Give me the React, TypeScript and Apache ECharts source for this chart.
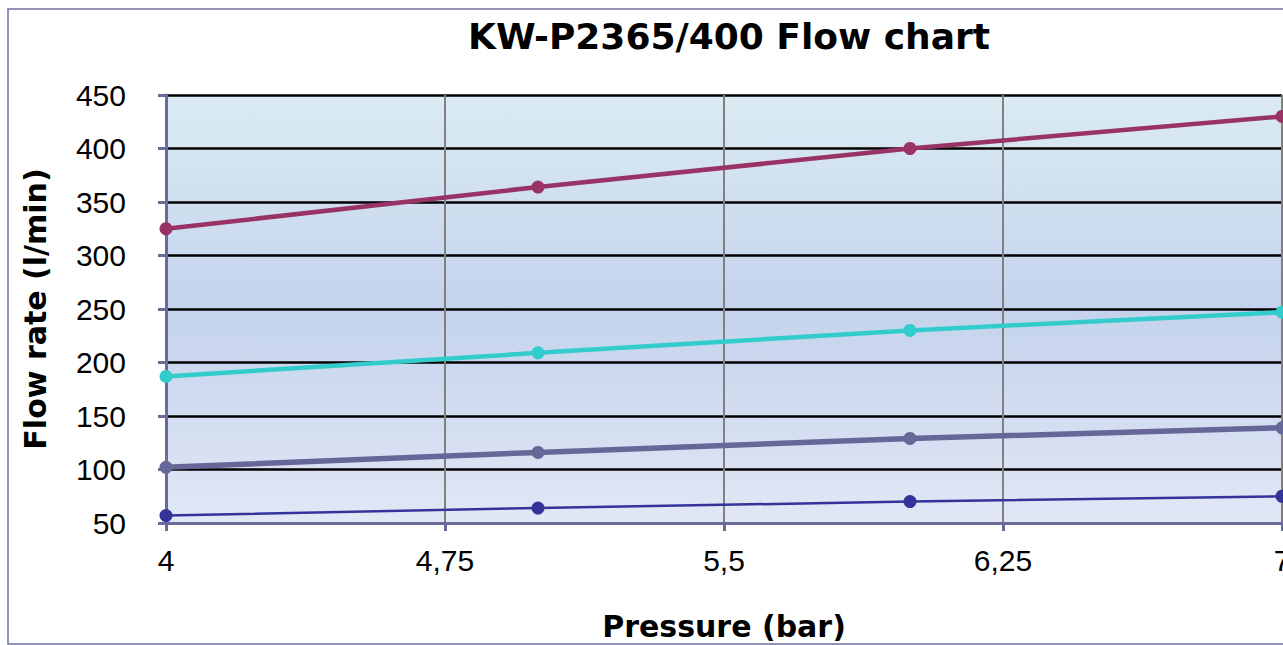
import React, { useEffect, useRef } from "react";
import * as echarts from "echarts";

const pressures = [4, 5, 6, 7];
const flowSeries1 = [325, 364, 400, 430];
const flowSeries2 = [187, 209, 230, 247];
const flowSeries3 = [102, 116, 129, 139];
const flowSeries4 = [57, 64, 70, 75];
const seriesColors = ["#993366", "#33cccc", "#666699", "#333399"];
const seriesWidths = [4.5, 4.5, 5.5, 2.5];
const chartTitle = "KW-P2365/400 Flow chart";
const xTitle = "Pressure (bar)";
const yTitle = "Flow rate (l/min)";

export default function App() {
  const ref = useRef<HTMLDivElement>(null);
  useEffect(() => {
    if (!ref.current) return;
    const chart = echarts.init(ref.current, null, { renderer: "svg" });
    const all = [flowSeries1, flowSeries2, flowSeries3, flowSeries4];
    const font = "'Liberation Sans', Arial, sans-serif";
    const bold = "'DejaVu Sans', sans-serif";
    chart.setOption({
      animation: false,
      backgroundColor: "#ffffff",
      title: {
        text: chartTitle,
        left: 724,
        textAlign: "center",
        top: 13,
        textStyle: { fontFamily: bold, fontWeight: "bold", fontSize: 36, color: "#000" },
      },
      graphic: [
        {
          type: "rect",
          shape: { x: 8, y: 9, width: 1290, height: 635 },
          style: { fill: "none", stroke: "#7272a2", lineWidth: 1.5 },
          silent: true,
          z: -10,
        },
      ],
      grid: {
        left: 166,
        top: 95,
        right: 1,
        bottom: 122,
        outerBoundsMode: "none",
        containLabel: false,
        show: true,
        borderWidth: 0,
        backgroundColor: new echarts.graphic.LinearGradient(0, 0, 0, 1, [
          { offset: 0, color: "#dbebf3" },
          { offset: 0.5, color: "#c4d3ec" },
          { offset: 1, color: "#e1e7f5" },
        ]),
      },
      xAxis: {
        type: "value",
        min: 4,
        max: 7,
        interval: 0.75,
        name: xTitle,
        nameLocation: "middle",
        nameGap: 88,
        nameTextStyle: { fontFamily: bold, fontWeight: "bold", fontSize: 30, color: "#000" },
        axisLine: { show: true, lineStyle: { color: "#6b6b9b", width: 3 } },
        axisTick: { show: true, length: 8, lineStyle: { color: "#6b6b9b", width: 3 } },
        axisLabel: {
          margin: 22,
          fontFamily: font,
          fontSize: 30,
          color: "#000",
          formatter: (v: number) => String(v).replace(".", ","),
        },
        splitLine: { show: true, lineStyle: { color: "#808080", width: 2 } },
      },
      yAxis: {
        type: "value",
        min: 50,
        max: 450,
        interval: 50,
        name: yTitle,
        nameLocation: "middle",
        nameRotate: 90,
        nameGap: 116,
        nameTextStyle: { fontFamily: bold, fontWeight: "bold", fontSize: 30, color: "#000" },
        axisLine: { show: true, lineStyle: { color: "#6b6b9b", width: 3 } },
        axisTick: { show: true, length: 8, lineStyle: { color: "#6b6b9b", width: 3 } },
        axisLabel: { margin: 40, fontFamily: font, fontSize: 30, color: "#000" },
        splitLine: { show: true, lineStyle: { color: "#000", width: 2.5 } },
      },
      series: all.map((vals, i) => ({
        type: "line",
        data: pressures.map((p, j) => [p, vals[j]]),
        symbol: "circle",
        symbolSize: 13,
        clip: false,
        lineStyle: { color: seriesColors[i], width: seriesWidths[i] },
        itemStyle: { color: seriesColors[i] },
        z: 10 - i,
      })),
    });
    return () => chart.dispose();
  }, []);
  return (
    <div
      ref={ref}
      style={{ position: "fixed", left: 0, top: 0, width: 1283, height: 645 }}
    />
  );
}
